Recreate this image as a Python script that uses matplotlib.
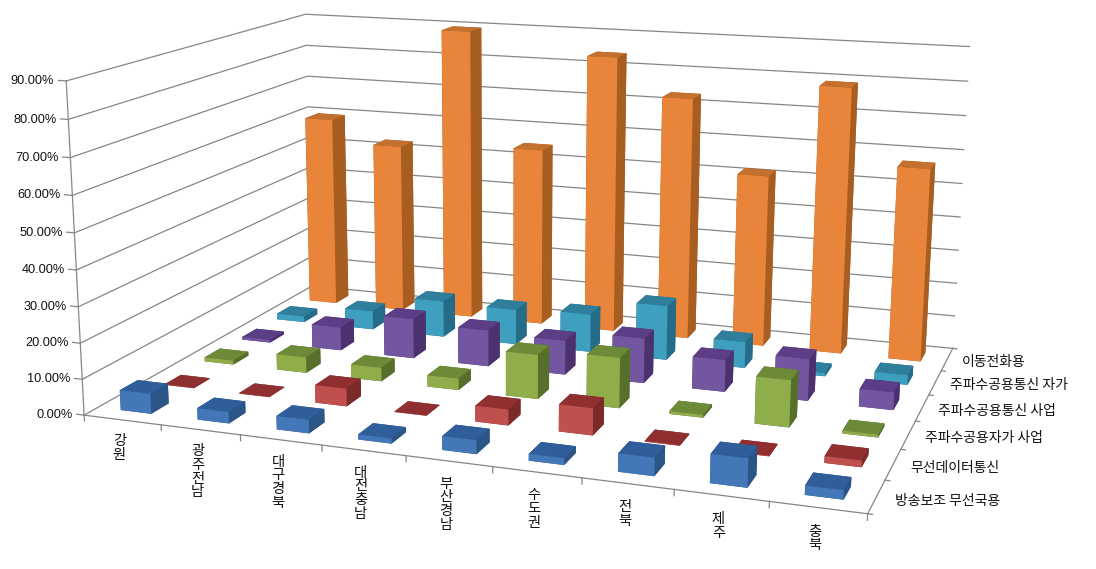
import numpy as np
import matplotlib
matplotlib.use("Agg")
import matplotlib.pyplot as plt

W, H = 1096, 569

categories = ["강원", "광주전남", "대구경북", "대전충남", "부산경남", "수도권", "전북", "제주", "충북"]
series_names = ["방송보조 무선국용", "무선데이터통신", "주파수공용자가 사업",
                "주파수공용통신 사업", "주파수공용통신 자가", "이동전화용"]

broadcast = [5.6, 3.2, 3.7, 1.4, 3.7, 1.8, 4.8, 7.5, 2.4]
wireless_data = [0.1, 0.1, 5.0, 0.1, 4.4, 7.4, 0.2, 0.2, 1.8]
trs_private = [1.2, 4.6, 4.0, 3.3, 12.6, 14.2, 0.8, 13.0, 0.8]
trs_business = [0.8, 7.0, 11.8, 10.7, 10.0, 13.0, 9.2, 11.9, 5.0]
trs_own = [1.8, 5.7, 11.0, 10.6, 11.4, 16.2, 7.7, 1.0, 2.8]
mobile = [59.5, 52.5, 89.5, 54.5, 84.0, 73.0, 51.5, 79.0, 57.0]
all_series = [broadcast, wireless_data, trs_private, trs_business, trs_own, mobile]

# front, top, right side of every series
front_colors = ["#4477B8", "#C0504D", "#8FAE4B", "#7356A0", "#3F9FBF", "#E8853A"]
top_colors = ["#2F5E9A", "#8F2F2F", "#6D8A38", "#5B3E85", "#2E7E9C", "#C4702E"]
side_colors = ["#2B5587", "#7A2A28", "#566F2B", "#4B326E", "#246C88", "#A85E20"]

z_ticks = np.arange(0, 100, 10)
LINE = "#868686"
BAR = 0.4  # gap width 150%

nx = len(categories)
ny = len(series_names)

# box corners -> where they sit in the picture, for the camera fit
world = [(0, 0, 0), (nx, 0, 0), (nx, ny, 0), (0, ny, 0), (0, 0, 90), (0, ny, 90), (nx, ny, 90)]
image = [(85, 413), (868, 515), (953, 347), (311, 288), (65, 82), (307, 13), (969, 47)]


def fit_camera(world, image):
    rows = []
    for (x, y, z), (u, v) in zip(world, image):
        rows.append([x, y, z, 1, 0, 0, 0, 0, -u*x, -u*y, -u*z, -u])
        rows.append([0, 0, 0, 0, x, y, z, 1, -v*x, -v*y, -v*z, -v])
    p = np.linalg.svd(np.array(rows, float))[2][-1].reshape(3, 4)
    if p[2] @ np.array([0, 0, 0, 1]) < 0:
        p = -p
    return p


camera = fit_camera(world, image)


def label(x, y, z, dx, dy, s, **kw):
    # text goes on the figure, placed from the projected point plus a pixel offset
    u, v, w = camera @ np.array([x, y, z, 1.0])
    fig.text((u / w + dx) / W, 1 - (v / w + dy) / H, s, color="#111111", **kw)


fig = plt.figure(figsize=(W / 100, H / 100), dpi=100)
side = W / H
ax = fig.add_axes([0, (1 - side) / 2, 1, side], projection="3d", computed_zorder=False)
ax.set_axis_off()
ax.apply_aspect()

# pixel (y down) -> the 2d data space the 3d axes draw in
flip = np.array([[1, 0, 0], [0, -1, H], [0, 0, 1]], float)
p = ax.transData.inverted().get_matrix() @ flip @ camera
M = np.vstack([p[0], p[1], [0, 0, 0, -1], p[2]])
ax.get_proj = lambda: M

# walls and floor lines
for z in z_ticks:
    ax.plot([0, 0, nx], [0, ny, ny], [z, z, z], color=LINE, lw=0.9, zorder=1)
    ax.plot([-0.1, 0], [0, 0], [z, z], color=LINE, lw=0.9, zorder=1)
    label(-0.14, 0, z, -1, 1, f"{z:.2f}%", ha="right", va="center", fontsize=9.2,
          family=["Liberation Sans"])
ax.plot([0, 0], [0, 0], [0, 90], color=LINE, lw=0.9, zorder=1)
ax.plot([0, nx, nx], [0, 0, ny], [0, 0, 0], color=LINE, lw=0.9, zorder=1)
for i in range(nx + 1):
    ax.plot([i, i], [0, 0], [0, -1.6], color=LINE, lw=0.9, zorder=1)
for j in range(ny + 1):
    ax.plot([nx, nx + 0.05], [j, j], [0, 0], color=LINE, lw=0.9, zorder=1)

# back row first so the nearer bars cover it
order = 2
for j in reversed(range(ny)):
    for i in range(nx):
        colors = [side_colors[j], top_colors[j], front_colors[j],
                  side_colors[j], side_colors[j], side_colors[j]]
        ax.bar3d(i + 0.5 - BAR / 2, j + 0.5 - BAR / 2, 0, BAR, BAR, all_series[j][i],
                 color=colors, shade=False, zorder=order, linewidth=0)
        order += 1

# category names stand upright, one syllable per line
for i, name in enumerate(categories):
    label(i + 0.5, 0, 0, -3, 14 + 0.4 * i, "\n".join(name), ha="center", va="top",
          fontsize=10.3, linespacing=0.97, family=["Noto Sans CJK KR"])
for j, name in enumerate(series_names):
    label(nx + 0.22, j + 0.5, -2, -3, -6, name, ha="left", va="center", fontsize=10,
          family=["Noto Sans CJK KR"])

fig.savefig("out.png", dpi=100)
